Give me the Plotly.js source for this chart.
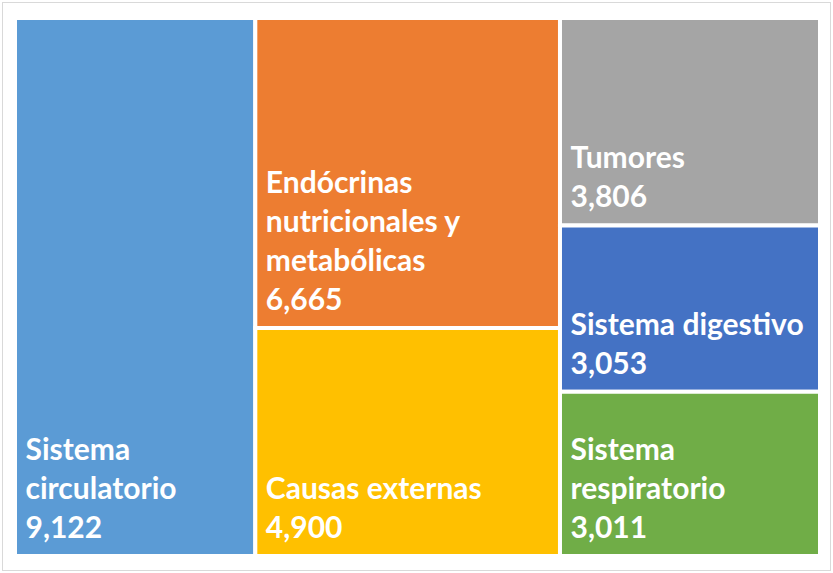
<!DOCTYPE html>
<html>
<head>
<meta charset="utf-8">
<script src="https://cdn.plot.ly/plotly-3.0.1.min.js"></script>
<style>
  html, body { margin: 0; padding: 0; background: #ffffff; }
  #wrap { position: relative; width: 833px; height: 573px; }
  #chart { position: absolute; left: 0; top: 0; width: 833px; height: 573px; }
  #frame { position: absolute; left: 2px; top: 2px; width: 827px; height: 567px;
           border: 1px solid #D9D9D9; pointer-events: none; }
</style>
</head>
<body>
<div id="wrap">
  <div id="chart"></div>
  <div id="frame"></div>
</div>
<script>
// Data
const categories = ["Sistema<br>circulatorio", "Endócrinas<br>nutricionales y<br>metabólicas", "Causas externas", "Tumores", "Sistema digestivo", "Sistema<br>respiratorio"];
const values = [9122, 6665, 4900, 3806, 3053, 3011];
const columnGroup = ["col1", "col2", "col2", "col3", "col3", "col3"];
const colors = ["#5B9BD5", "#ED7D31", "#FFC000", "#A5A5A5", "#4472C4", "#70AD47"];
const groups = ["col1", "col2", "col3"];

const INDENT = "\u2005";  // small leading space so labels sit inset like the reference
const ids = [], labels = [], parents = [], vals = [], cols = [], templates = [];
groups.forEach(g => {
  ids.push(g); labels.push(""); parents.push(""); vals.push(0);
  cols.push("#ffffff"); templates.push("");
});
categories.forEach((c, i) => {
  ids.push("leaf" + i);
  labels.push(c.split("<br>").map(s => INDENT + s).join("<br>"));
  parents.push(columnGroup[i]); vals.push(values[i]);
  cols.push(colors[i]);
  templates.push("%{label}<br>" + INDENT + "%{value:,}<span style=\"font-size:70px\">" + INDENT + "</span>");
});

const trace = {
  type: "treemap",
  ids: ids,
  labels: labels,
  parents: parents,
  values: vals,
  branchvalues: "remainder",
  sort: false,
  textinfo: "none",
  texttemplate: templates,
  textposition: "bottom left",
  textfont: { family: "Lato, 'Open Sans', sans-serif", size: 30, color: "#ffffff", weight: "bold" },
  marker: {
    colors: cols,
    line: { width: 4, color: "#ffffff" },
    pad: { t: 0, l: 0, r: 0, b: 0 }
  },
  tiling: { packing: "slice-dice", pad: 0 },
  pathbar: { visible: false },
  hoverinfo: "none"
};

const layout = {
  width: 833, height: 573,
  margin: { l: 15, r: 13, t: 18, b: 17 },
  paper_bgcolor: "#ffffff",
  showlegend: false
};

Plotly.newPlot("chart", [trace], layout, { displayModeBar: false, staticPlot: true });
</script>
</body>
</html>
